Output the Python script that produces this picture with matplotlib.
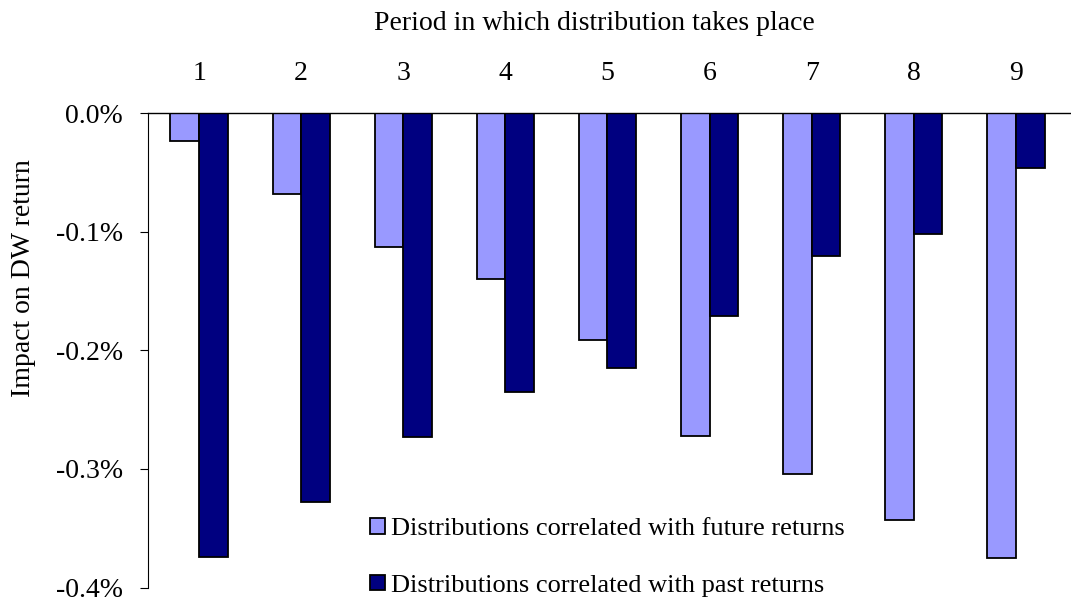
import numpy as np
import matplotlib.pyplot as plt
from matplotlib.ticker import FuncFormatter

plt.rcParams['font.family'] = ['Liberation Serif', 'DejaVu Serif']

# dados (em %)
periods = ['1', '2', '3', '4', '5', '6', '7', '8', '9']
future = [-0.023, -0.068, -0.113, -0.140, -0.191, -0.272, -0.304, -0.343, -0.375]
past = [-0.374, -0.328, -0.273, -0.235, -0.215, -0.171, -0.120, -0.102, -0.046]
yticks = [0.0, -0.1, -0.2, -0.3, -0.4]

W, H = 1071, 601
fig = plt.figure(figsize=(W / 100, H / 100), dpi=100)
ax = fig.add_axes([148 / W, (H - 587.5) / H, (1067 - 148) / W, (587.5 - 113.3) / H])

x = np.arange(len(periods))
w = 0.28
ax.bar(x - w / 2, future, w, color='#9999FF', edgecolor='black', linewidth=1.3,
       label='Distributions correlated with future returns')
ax.bar(x + w / 2, past, w, color='#000080', edgecolor='black', linewidth=1.3,
       label='Distributions correlated with past returns')

ax.set_xlim(-0.5, len(periods) - 0.5)
ax.set_ylim(-0.4, 0.0)
ax.set_yticks(yticks)
ax.yaxis.set_major_formatter(FuncFormatter(lambda v, p: '%.1f%%' % v))
ax.tick_params(axis='y', direction='out', length=6, width=0.8, pad=12, labelsize=20)

ax.xaxis.tick_top()
ax.set_xticks(x)
ax.set_xticklabels(periods)
ax.tick_params(axis='x', length=0, pad=20, labelsize=20)

for s in ['right', 'bottom']:
    ax.spines[s].set_visible(False)
ax.spines['top'].set_linewidth(1.0)
ax.spines['left'].set_linewidth(0.8)
ax.spines['top'].set_bounds(-0.5, len(periods))
ax.spines['top'].set_clip_on(False)

fig.text(594 / W, 1 - 23 / H, 'Period in which distribution takes place',
         ha='center', va='center', fontsize=20)
fig.text(24 / W, 1 - 278 / H, 'Impact on DW return', rotation=90,
         ha='center', va='center', fontsize=20)

ax.legend(loc='upper left', bbox_to_anchor=(370 / W, 1 - 518 / H),
          bbox_transform=fig.transFigure, frameon=False, fontsize=19,
          handlelength=0.55, handleheight=0.55, handletextpad=0.25,
          labelspacing=1.3, borderaxespad=0, borderpad=0)

fig.savefig('out.png', dpi=100)
